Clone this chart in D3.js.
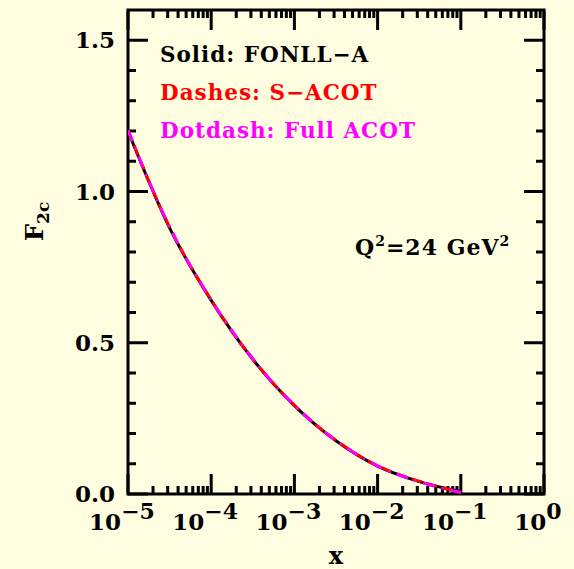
<!DOCTYPE html>
<html>
<head>
<meta charset="utf-8">
<script src="https://cdn.jsdelivr.net/npm/d3@7"></script>
<style>
  html, body { margin: 0; padding: 0; background: #fffde0; }
  svg { display: block; }
  text { font-family: "DejaVu Serif", serif; font-weight: bold; }
</style>
</head>
<body>
<svg id="chart" width="574" height="569"></svg>
<script>
// F2c structure function vs x at Q^2 = 24 GeV^2
const xValues   = [1e-5, 3.16e-5, 1e-4, 3.16e-4, 1e-3, 3.16e-3, 1e-2, 3.16e-2, 1e-1];
const fonllA    = [1.200, 0.880, 0.640, 0.445, 0.292, 0.176, 0.092, 0.041, 0.008];
const sAcot     = [1.202, 0.882, 0.641, 0.446, 0.293, 0.177, 0.093, 0.042, 0.006];
const fullAcot  = [1.203, 0.883, 0.642, 0.447, 0.293, 0.177, 0.093, 0.041, 0.005];

const xTickValues = [1e-5, 1e-4, 1e-3, 1e-2, 1e-1, 1];
const xTickExps   = ["\u22125", "\u22124", "\u22123", "\u22122", "\u22121", "0"];
const yTickValues = [0, 0.5, 1.0, 1.5];
const yTickLabels = ["0.0", "0.5", "1.0", "1.5"];

const legendLines = [
  {text: "Solid: FONLL\u2212A",   color: "#000000"},
  {text: "Dashes: S\u2212ACOT",   color: "#ff0000"},
  {text: "Dotdash: Full ACOT",    color: "#ff00ff"}
];

const svg = d3.select("#chart");
const pLeft = 128, pRight = 544, pTop = 10, pBottom = 494;

const x = d3.scaleLog().domain([1e-5, 1]).range([pLeft, pRight]);
const y = d3.scaleLinear().domain([0, 1.6]).range([pBottom, pTop]);

// minor tick positions
const xMinor = [];
for (let e = -5; e < 0; e++) for (let m = 2; m <= 9; m++) xMinor.push(m * Math.pow(10, e));
const yMinor = d3.range(0, 16).map(i => i / 10).filter(v => Math.abs(v * 2 - Math.round(v * 2)) > 1e-6);

const ax = svg.append("g").attr("stroke", "#000").attr("stroke-width", 3).attr("fill", "none");

// bottom & top ticks
const majorLen = 20, minorLen = 8;
[[pBottom, -1], [pTop, 1]].forEach(([yy, dir]) => {
  ax.selectAll(null).data(xTickValues).enter().append("line")
    .attr("x1", d => x(d)).attr("x2", d => x(d))
    .attr("y1", yy).attr("y2", yy + dir * majorLen);
  ax.selectAll(null).data(xMinor).enter().append("line")
    .attr("x1", d => x(d)).attr("x2", d => x(d))
    .attr("y1", yy).attr("y2", yy + dir * minorLen);
});
// left & right ticks
[[pLeft, 1], [pRight, -1]].forEach(([xx, dir]) => {
  ax.selectAll(null).data(yTickValues).enter().append("line")
    .attr("y1", d => y(d)).attr("y2", d => y(d))
    .attr("x1", xx).attr("x2", xx + dir * majorLen);
  ax.selectAll(null).data(yMinor).enter().append("line")
    .attr("y1", d => y(d)).attr("y2", d => y(d))
    .attr("x1", xx).attr("x2", xx + dir * minorLen);
});
// frame
ax.append("rect").attr("x", pLeft).attr("y", pTop)
  .attr("width", pRight - pLeft).attr("height", pBottom - pTop)
  .attr("stroke-linejoin", "miter");

// y tick labels
svg.selectAll(null).data(yTickValues).enter().append("text")
  .attr("x", 115).attr("y", d => y(d) + 8)
  .attr("text-anchor", "end").attr("font-size", 23)
  .text((d, i) => yTickLabels[i]);

// x tick labels: 10 with superscript exponent
xTickValues.forEach((v, i) => {
  const t = svg.append("text")
    .attr("x", x(v) - 6).attr("y", 530)
    .attr("text-anchor", "middle").attr("font-size", 23);
  t.append("tspan").text("10");
  t.append("tspan").attr("dy", -11).attr("font-size", 22).text(xTickExps[i]);
});

// axis titles
svg.append("text").attr("x", 336).attr("y", 564)
  .attr("text-anchor", "middle").attr("font-size", 24).text("x");
const yt = svg.append("text")
  .attr("transform", "translate(43,241) rotate(-90)")
  .attr("font-size", 24);
yt.append("tspan").text("F");
yt.append("tspan").attr("dy", 6).attr("font-size", 17).text("2c");

// annotation
const q = svg.append("text").attr("x", 355).attr("y", 255)
  .attr("font-size", 22).attr("letter-spacing", 1);
q.append("tspan").text("Q");
q.append("tspan").attr("dy", -9).attr("font-size", 14).text("2");
q.append("tspan").attr("dy", 9).text("=24 GeV");
q.append("tspan").attr("dy", -9).attr("font-size", 14).text("2");

// legend text
svg.selectAll(null).data(legendLines).enter().append("text")
  .attr("x", 160).attr("y", (d, i) => 62 + i * 38)
  .attr("font-size", 21.5)
  .attr("letter-spacing", 1)
  .attr("fill", d => d.color)
  .text(d => d.text);

// curves
const line = d3.line()
  .x(d => x(d[0])).y(d => y(d[1]))
  .curve(d3.curveMonotoneX);
svg.append("clipPath").attr("id", "plotclip")
  .append("rect").attr("x", pLeft).attr("y", pTop)
  .attr("width", pRight - pLeft).attr("height", pBottom - pTop);

const series = [
  {vals: fonllA,   color: "#000000", dash: null},
  {vals: sAcot,    color: "#ff0000", dash: "10,6"},
  {vals: fullAcot, color: "#ff00ff", dash: "12,7,2,7"}
];
series.forEach(s => {
  svg.append("path")
    .datum(xValues.map((xv, i) => [xv, s.vals[i]]))
    .attr("clip-path", "url(#plotclip)")
    .attr("fill", "none")
    .attr("stroke", s.color)
    .attr("stroke-width", 3)
    .attr("stroke-dasharray", s.dash)
    .attr("d", line);
});
</script>
</body>
</html>
